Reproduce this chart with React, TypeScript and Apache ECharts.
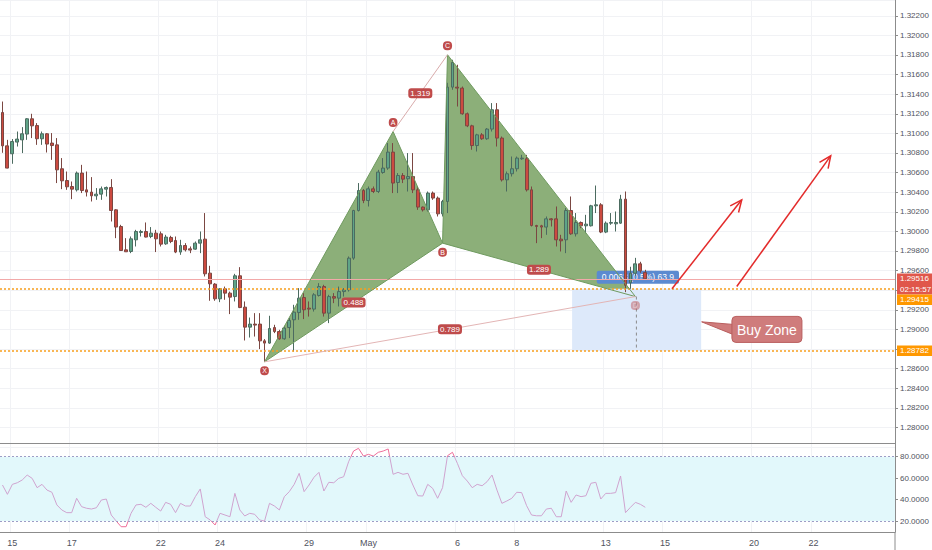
import React, { useEffect, useRef } from 'react';
import * as echarts from 'echarts';

// ---------- data ----------
const tradingDays = ['Apr 12','Apr 15','Apr 16','Apr 17','Apr 18','Apr 19','Apr 22','Apr 23','Apr 24','Apr 25','Apr 26','Apr 29','Apr 30','May 1','May 2','May 3','May 6','May 7','May 8','May 9','May 10','May 13','May 14','May 15','May 16','May 17','May 20','May 21','May 22','May 23','May 24','May 27','May 28'];
const labeledDays = ['Apr 15','Apr 17','Apr 22','Apr 24','Apr 29','May 1','May 6','May 8','May 13','May 15','May 20','May 22'];
const barsPerDay = 6;
const firstBarOffset = 4;
const slotCount = 181;

const opens = [1.31213,1.30873,1.30792,1.30911,1.30934,1.30993,1.31149,1.31080,1.30945,1.30996,
1.30901,1.30883,1.30639,1.30519,1.30458,1.30424,1.30595,1.30424,1.30401,1.30363,
1.30380,1.30431,1.30448,1.30220,1.30050,1.29812,1.29795,1.29914,1.29989,1.29999,
1.29948,1.29982,1.29975,1.29873,1.29938,1.29907,1.29789,1.29856,1.29822,1.29819,
1.29880,1.29921,1.29574,1.29462,1.29312,1.29414,1.29370,1.29335,1.29547,1.29227,
1.29023,1.29054,1.29054,1.28883,1.28860,1.29019,1.28978,1.28904,1.29019,1.29098,
1.29172,1.29325,1.29217,1.29207,1.29346,1.29437,1.29166,1.29335,1.29319,1.29386,
1.29404,1.29727,1.30213,1.30417,1.30315,1.30434,1.30407,1.30601,1.30646,1.30809,
1.30499,1.30570,1.30537,1.30560,1.30424,1.30248,1.30220,1.30391,1.30340,1.30179,
1.30305,1.31472,1.31472,1.31462,1.31200,1.31077,1.30876,1.30985,1.30945,1.31044,
1.31241,1.30952,1.30526,1.30588,1.30639,1.30741,1.30741,1.30424,1.30060,1.30057,
1.30044,1.30128,1.30128,1.29921,1.29914,1.30213,1.29975,1.30091,1.30057,1.30057,
1.30261,1.30271,1.29993,1.30084,1.30077,1.30084,1.30329,1.29475,1.29574,1.29669,
1.29580];
const closes = [1.30873,1.30646,1.30917,1.30942,1.30996,1.31149,1.31077,1.30945,1.30996,1.30891,
1.30876,1.30628,1.30516,1.30455,1.30431,1.30595,1.30417,1.30401,1.30363,1.30380,
1.30434,1.30448,1.30213,1.30044,1.29805,1.29792,1.29924,1.29999,1.29999,1.29942,
1.29982,1.29924,1.29870,1.29942,1.29897,1.29789,1.29856,1.29812,1.29809,1.29880,
1.29914,1.29567,1.29465,1.29312,1.29414,1.29370,1.29329,1.29547,1.29223,1.29023,
1.29054,1.29044,1.28883,1.28860,1.29009,1.28978,1.28904,1.29013,1.29091,1.29176,
1.29319,1.29200,1.29207,1.29353,1.29437,1.29166,1.29335,1.29319,1.29386,1.29404,
1.29727,1.30213,1.30417,1.30315,1.30434,1.30407,1.30605,1.30646,1.30809,1.30493,
1.30570,1.30533,1.30560,1.30424,1.30248,1.30220,1.30391,1.30340,1.30179,1.30305,
1.31472,1.31723,1.31462,1.31200,1.31077,1.30876,1.30985,1.30945,1.31044,1.31241,
1.30952,1.30526,1.30588,1.30639,1.30748,1.30748,1.30424,1.30060,1.30050,1.30044,
1.30128,1.30118,1.29914,1.29904,1.30213,1.29975,1.30091,1.30057,1.30074,1.30261,
1.30271,1.29993,1.30084,1.30091,1.30091,1.30329,1.29450,1.29574,1.29669,1.29598,
1.29516];
const lows = [1.30802,1.30644,1.30690,1.30866,1.30799,1.30934,1.30952,1.30883,1.30883,1.30805,
1.30730,1.30493,1.30431,1.30424,1.30329,1.30407,1.30391,1.30356,1.30305,1.30322,
1.30322,1.30356,1.30101,1.29931,1.29805,1.29792,1.29778,1.29846,1.29948,1.29938,
1.29931,1.29789,1.29846,1.29863,1.29880,1.29778,1.29761,1.29795,1.29778,1.29812,
1.29778,1.29540,1.29292,1.29292,1.29278,1.29302,1.29156,1.29285,1.29217,1.28887,
1.28917,1.28927,1.28799,1.28672,1.28853,1.28962,1.28894,1.28894,1.28911,1.28774,
1.29098,1.29105,1.29131,1.29182,1.29335,1.29131,1.29064,1.29268,1.29234,1.29335,
1.29386,1.29710,1.30203,1.30288,1.30254,1.30391,1.30391,1.30588,1.30628,1.30391,
1.30391,1.30493,1.30407,1.30391,1.30220,1.30203,1.30203,1.30322,1.30152,1.30152,
1.30187,1.31445,1.31274,1.31190,1.31064,1.30833,1.30815,1.30934,1.30934,1.31019,
1.30866,1.30509,1.30407,1.30560,1.30611,1.30730,1.30407,1.30050,1.29880,1.29931,
1.29965,1.30050,1.29846,1.29795,1.29778,1.29965,1.29948,1.30033,1.29982,1.30050,
1.30187,1.29982,1.29982,1.30067,1.29999,1.30077,1.29380,1.29414,1.29547,1.29577,
1.29506];
const highs = [1.31325,1.30934,1.30942,1.31019,1.31064,1.31156,1.31200,1.31105,1.31019,1.31003,
1.31003,1.30952,1.30748,1.30611,1.30509,1.30611,1.30679,1.30611,1.30554,1.30442,
1.30458,1.30458,1.30533,1.30227,1.30067,1.29931,1.29948,1.30016,1.30016,1.30091,
1.30044,1.30016,1.29999,1.29965,1.29955,1.29948,1.29914,1.29880,1.29846,1.29897,
1.29999,1.30187,1.29649,1.29472,1.29421,1.29437,1.29386,1.29567,1.29635,1.29285,
1.29121,1.29166,1.29166,1.28901,1.29139,1.29047,1.28996,1.29036,1.29115,1.29251,
1.29421,1.29370,1.29285,1.29370,1.29472,1.29455,1.29353,1.29370,1.29437,1.29421,
1.29744,1.30220,1.30493,1.30431,1.30458,1.30458,1.30628,1.30748,1.30901,1.30901,
1.30595,1.30595,1.30799,1.30799,1.30458,1.30254,1.30407,1.30407,1.30356,1.30322,
1.31516,1.31751,1.31700,1.31478,1.31213,1.31088,1.30996,1.31003,1.31054,1.31309,
1.31309,1.30968,1.30611,1.30764,1.30764,1.30781,1.30781,1.30458,1.30067,1.30067,
1.30152,1.30135,1.30254,1.29965,1.30238,1.30356,1.30187,1.30101,1.30169,1.30271,
1.30468,1.30288,1.30101,1.30187,1.30203,1.30373,1.30407,1.29639,1.29730,1.29690,
1.29608];
const rsi = [53.6,44.9,54.2,55.7,58.3,62.9,59.8,51.1,54.2,48.9,
46.8,35.0,30.3,27.8,27.8,41.2,33.4,31.9,31.2,32.4,
39.6,40.5,25.6,20.0,14.7,14.7,27.2,35.0,35.6,32.8,
36.5,32.8,29.3,37.4,35.6,27.8,36.5,34.0,34.0,42.7,
49.9,24.0,21.0,16.3,27.2,25.6,24.0,45.8,30.3,24.7,
27.2,26.3,21.0,20.0,36.5,34.0,30.3,42.7,47.4,54.2,
64.5,47.4,53.6,60.8,65.4,48.0,56.1,55.7,59.8,61.3,
75.3,85.3,87.8,80.6,82.2,80.6,84.1,85.3,87.2,63.6,
65.4,63.6,64.5,53.6,43.6,43.3,54.2,50.5,41.2,51.1,
80.9,84.1,73.8,62.3,57.3,51.1,54.2,52.9,56.7,62.9,
48.9,36.5,38.7,41.2,46.8,46.5,34.3,25.6,24.9,24.9,
31.2,31.9,24.0,24.0,48.0,37.4,44.3,42.7,43.6,55.2,
56.1,40.5,45.8,45.8,46.5,62.0,27.8,32.8,37.4,35.6,
32.8];

// harmonic pattern
const patternNames = ['X','A','B','C','D'];
const patternBar = [53, 79, 89, 90, 128];
const patternPrice = [1.28669, 1.31019, 1.29880, 1.31802, 1.29335];
const patternLabelAbove = [false, true, false, true, false];
const ratioPairs = [[0, 2], [1, 3], [2, 4], [0, 4]];
const ratioText = ['0.488', '1.319', '1.289', '0.789'];

const lastPrice = 1.29516;
const countdown = '02:15:57';
const zoneTop = 1.29415;
const zoneBottom = 1.28782;
const zoneBars = [115.2, 141.3];
const measureText = '0.0063 (0.5%) 63.9';
const measureBar = 128.5;
const measurePrice = 1.29531;
const arrowFromBar = [135.4, 148.5];
const arrowFromPrice = [1.29414, 1.29438];
const arrowToBar = [149.5, 167.5];
const arrowToPrice = [1.30322, 1.30771];
const calloutText = 'Buy Zone';
const calloutBar = 154.6;
const calloutPrice = 1.29000;
const calloutTipBar = 141.4;
const calloutTipPrice = 1.29077;

const priceMin = 1.278;
const priceMax = 1.32361;
const priceStep = 0.002;
const rsiMin = 9.76;
const rsiMax = 92.78;
const rsiLevels = [20, 40, 60, 80];

// ---------- layout / style ----------
const AXIS_X = 895;
const FONT = '"Liberation Sans", Arial, sans-serif';
const FILL_GREEN = '#8caf79';
const EDGE_GREEN = '#6f9a5f';
const BADGE_RED = '#bf4b4b';
const ORANGE = '#f89e1e';
const TAG_RED = '#e0574b';

const categories: string[] = [];
tradingDays.forEach((d) => {
  for (let h = 0; h < barsPerDay; h++) categories.push(`${d} ${h * 4}:00`);
});
const slots = categories.slice(firstBarOffset, firstBarOffset + slotCount);
const isLabeled = (v: string) => v.endsWith(' 0:00') && labeledDays.includes(v.replace(' 0:00', ''));
const dayText = (v: string) => {
  const d = v.replace(' 0:00', '');
  if (d === 'May 1') return 'May';
  return d.split(' ')[1];
};

const candleData = opens.map((o, i) => [o, closes[i], lows[i], highs[i]]);

function makePt(api: any) {
  return (bar: number, price: number) => {
    const i = Math.floor(bar);
    const f = bar - i;
    const a = api.coord([i, price]);
    const b = api.coord([i + 1, price]);
    return [a[0] + (b[0] - a[0]) * f, a[1]];
  };
}

function arrowShapes(p0: number[], p1: number[], color: string) {
  const dx = p1[0] - p0[0];
  const dy = p1[1] - p0[1];
  const L = Math.hypot(dx, dy);
  const ux = dx / L, uy = dy / L;
  const len = 13, ang = 0.42;
  const leg = (a: number) => [
    p1[0] - len * (ux * Math.cos(a) - uy * Math.sin(a)),
    p1[1] - len * (ux * Math.sin(a) + uy * Math.cos(a)),
  ];
  return [
    { type: 'line', shape: { x1: p0[0], y1: p0[1], x2: p1[0], y2: p1[1] }, style: { stroke: color, lineWidth: 1.5 } },
    { type: 'polyline', shape: { points: [leg(ang), p1, leg(-ang)] }, style: { stroke: color, lineWidth: 1.5, fill: null } },
  ];
}

export default function App() {
  const ref = useRef<HTMLDivElement>(null);
  useEffect(() => {
    if (!ref.current) return;
    const chart = echarts.init(ref.current, undefined, { renderer: 'svg' });

    const fillRender = (params: any, api: any) => {
      if (params.dataIndex !== 0) return null;
      const pt = makePt(api);
      const P = patternBar.map((b, i) => pt(b, patternPrice[i]));
      const z0 = pt(zoneBars[0], zoneTop);
      const z1 = pt(zoneBars[1], zoneBottom);
      const m = pt(measureBar, measurePrice);
      return {
        type: 'group',
        children: [
          { type: 'polygon', shape: { points: [P[0], P[1], P[2]] }, style: { fill: FILL_GREEN } },
          { type: 'polygon', shape: { points: [P[2], P[3], P[4]] }, style: { fill: FILL_GREEN } },
          { type: 'rect', shape: { x: z0[0], y: z0[1], width: z1[0] - z0[0], height: z1[1] - z0[1] }, style: { fill: '#dde9fa' } },
          {
            type: 'text',
            style: {
              text: measureText, x: m[0], y: m[1], align: 'center', verticalAlign: 'middle',
              fill: '#ffffff', fontSize: 8.5, fontFamily: FONT,
              backgroundColor: '#5b8ad0', padding: [2, 5], borderRadius: 2,
            },
          },
        ],
      };
    };

    const lineRender = (params: any, api: any) => {
      if (params.dataIndex !== 0) return null;
      const pt = makePt(api);
      const P = patternBar.map((b, i) => pt(b, patternPrice[i]));
      const children: any[] = [];
      children.push({ type: 'polyline', shape: { points: [P[0], P[1], P[2], P[0]] }, style: { stroke: EDGE_GREEN, lineWidth: 1, fill: null } });
      children.push({ type: 'polyline', shape: { points: [P[2], P[3], P[4], P[2]] }, style: { stroke: EDGE_GREEN, lineWidth: 1, fill: null } });
      children.push({ type: 'line', shape: { x1: P[1][0], y1: P[1][1], x2: P[3][0], y2: P[3][1] }, style: { stroke: '#d9abab', lineWidth: 1 } });
      children.push({ type: 'line', shape: { x1: P[0][0], y1: P[0][1], x2: P[4][0], y2: P[4][1] }, style: { stroke: '#e3b5b5', lineWidth: 1 } });
      const dBottom = pt(patternBar[4], zoneBottom);
      children.push({ type: 'line', shape: { x1: P[4][0] + 1, y1: P[4][1], x2: P[4][0] + 1, y2: dBottom[1] }, style: { stroke: '#8a8a8a', lineWidth: 1, lineDash: [3, 3] } });
      ratioPairs.forEach((pr, i) => {
        const a = P[pr[0]], b = P[pr[1]];
        children.push({
          type: 'text',
          style: {
            text: ratioText[i], x: (a[0] + b[0]) / 2, y: (a[1] + b[1]) / 2, align: 'center', verticalAlign: 'middle',
            fill: '#ffffff', fontSize: 8, fontFamily: FONT, backgroundColor: BADGE_RED, padding: [1, 2], borderRadius: 3,
          },
        });
      });
      patternNames.forEach((n, i) => {
        const p = P[i];
        const dy = patternLabelAbove[i] ? -9 : 9;
        children.push({
          type: 'text',
          style: {
            text: n, x: p[0], y: p[1] + dy, align: 'center', verticalAlign: 'middle',
            fill: '#ffffff', fontSize: 7, fontFamily: FONT, backgroundColor: BADGE_RED, padding: [1, 2], borderRadius: 4,
            opacity: i === 4 ? 0.45 : 1,
          },
        });
      });
      arrowFromBar.forEach((b, i) => {
        const p0 = pt(b, arrowFromPrice[i]);
        const p1 = pt(arrowToBar[i], arrowToPrice[i]);
        arrowShapes(p0, p1, '#e32b2b').forEach((s) => children.push(s));
      });
      const c = pt(calloutBar, calloutPrice);
      const tip = pt(calloutTipBar, calloutTipPrice);
      const w = 70, h = 26;
      children.push({ type: 'polygon', shape: { points: [tip, [c[0] - w / 2 + 1, c[1] - 5], [c[0] - w / 2 + 1, c[1] + 5]] }, style: { fill: '#cf7c7c', stroke: '#b95e5e', lineWidth: 1 } });
      children.push({ type: 'rect', shape: { x: c[0] - w / 2, y: c[1] - h / 2, width: w, height: h, r: 4 }, style: { fill: '#cf7c7c', stroke: '#b95e5e', lineWidth: 1 } });
      children.push({ type: 'rect', shape: { x: c[0] - w / 2 + 1, y: c[1] - 5, width: 3, height: 10 }, style: { fill: '#cf7c7c' } });
      children.push({ type: 'text', style: { text: calloutText, x: c[0], y: c[1] + 1, align: 'center', verticalAlign: 'middle', fill: '#ffffff', fontSize: 14, fontFamily: FONT } });
      return { type: 'group', children };
    };

    const priceLabel = (v: number) => v.toFixed(5);

    const option: any = {
      animation: false,
      backgroundColor: '#ffffff',
      grid: [
        { left: 0, top: 0, width: AXIS_X, height: 447, containLabel: false, outerBoundsMode: 'none' },
        { left: 0, top: 443, width: AXIS_X, height: 89, containLabel: false, outerBoundsMode: 'none' },
      ],
      xAxis: [
        {
          type: 'category', gridIndex: 0, data: slots, boundaryGap: true,
          axisLine: { show: false }, axisTick: { show: false }, axisLabel: { show: false },
          splitLine: { show: true, interval: (i: number, v: string) => isLabeled(v), lineStyle: { color: '#f1f2f5', width: 1 } },
        },
        {
          type: 'category', gridIndex: 1, data: slots, boundaryGap: true, position: 'bottom',
          axisLine: { show: true, lineStyle: { color: '#8c8c8c', width: 1 } }, axisTick: { show: false },
          axisLabel: {
            show: true, interval: (i: number, v: string) => isLabeled(v), formatter: (v: string) => dayText(v),
            color: '#50535e', fontSize: 9, fontFamily: FONT, margin: 6,
          },
          splitLine: { show: true, interval: (i: number, v: string) => isLabeled(v), lineStyle: { color: '#f1f2f5', width: 1 } },
        },
        {
          type: 'category', gridIndex: 1, data: slots, boundaryGap: true, position: 'top',
          axisLine: { show: true, lineStyle: { color: '#8c8c8c', width: 1 } }, axisTick: { show: false }, axisLabel: { show: false },
          splitLine: { show: false },
        },
      ],
      yAxis: [
        {
          type: 'value', gridIndex: 0, position: 'right', min: priceMin, max: priceMax, interval: priceStep, scale: true,
          axisLine: { show: true, lineStyle: { color: '#8c8c8c', width: 1 } },
          axisTick: { show: true, length: 3, lineStyle: { color: '#8c8c8c' } },
          axisLabel: { show: true, showMinLabel: false, showMaxLabel: false, formatter: priceLabel, color: '#50535e', fontSize: 8, fontFamily: FONT, margin: 5 },
          splitLine: { show: true, lineStyle: { color: '#f1f2f5', width: 1 } },
        },
        {
          type: 'value', gridIndex: 1, position: 'right', min: rsiMin, max: rsiMax,
          axisLine: { show: true, lineStyle: { color: '#8c8c8c', width: 1 } },
          axisTick: { show: true, length: 3, customValues: rsiLevels, lineStyle: { color: '#8c8c8c' } },
          axisLabel: { show: true, customValues: rsiLevels, formatter: (v: number) => v.toFixed(4), color: '#50535e', fontSize: 8, fontFamily: FONT, margin: 5 },
          splitLine: { show: false },
        },
      ],
      visualMap: {
        show: false, seriesIndex: 3, dimension: 1,
        pieces: [
          { lt: 20, color: '#ee6f9a' },
          { gte: 20, lte: 80, color: '#cfa3cf' },
          { gt: 80, color: '#ee6f9a' },
        ],
      },
      series: [
        {
          type: 'custom', name: 'patternFill', xAxisIndex: 0, yAxisIndex: 0, z: 1, clip: false, silent: true,
          data: [[0, 1.3]], encode: { x: 0, y: 1 }, renderItem: fillRender,
        },
        {
          type: 'candlestick', name: 'GBPUSD', xAxisIndex: 0, yAxisIndex: 0, z: 2, barWidth: '68%',
          data: candleData,
          itemStyle: { color: '#5fa488', color0: '#cc4a40', borderColor: '#4c6b60', borderColor0: '#7b4742', borderWidth: 1 },
          markLine: {
            silent: true, symbol: ['none', 'none'], label: { show: false }, animation: false, precision: 5,
            data: [
              { yAxis: lastPrice, lineStyle: { color: '#f2a9a9', width: 1, type: 'solid' } },
              { yAxis: zoneTop, lineStyle: { color: ORANGE, width: 1.5, type: [2, 2] } },
              { yAxis: zoneBottom, lineStyle: { color: ORANGE, width: 1.5, type: [2, 2] } },
            ],
          },
        },
        {
          type: 'custom', name: 'patternLines', xAxisIndex: 0, yAxisIndex: 0, z: 5, clip: false, silent: true,
          data: [[0, 1.3]], encode: { x: 0, y: 1 }, renderItem: lineRender,
        },
        {
          type: 'line', name: 'RSI', xAxisIndex: 1, yAxisIndex: 1, data: rsi, showSymbol: false, symbol: 'none',
          lineStyle: { width: 1 }, z: 3,
          markArea: { silent: true, itemStyle: { color: '#e2f8fb' }, data: [[{ yAxis: 20 }, { yAxis: 80 }]] },
          markLine: {
            silent: true, symbol: ['none', 'none'], label: { show: false }, precision: 4,
            lineStyle: { color: '#9d9dc6', width: 1, type: [2, 2] },
            data: [{ yAxis: 80 }, { yAxis: 20 }],
          },
        },
      ],
    };
    chart.setOption(option);

    // price tags on the right axis
    const tagH = 10.5;
    const tags = [
      { text: lastPrice.toFixed(5), price: lastPrice, color: TAG_RED, stack: false },
      { text: countdown, price: lastPrice, color: TAG_RED, stack: true },
      { text: zoneTop.toFixed(5), price: zoneTop, color: '#ff9800', stack: false },
      { text: zoneBottom.toFixed(5), price: zoneBottom, color: '#ff9800', stack: false },
    ];
    const gfx: any[] = [];
    const spans: number[][] = [];
    let prev = -1000;
    tags.forEach((t) => {
      let cy = chart.convertToPixel({ yAxisIndex: 0 }, t.price) as number;
      if (t.stack || cy < prev + tagH) cy = prev + tagH;
      prev = cy;
      spans.push([cy - tagH / 2, cy + tagH / 2]);
      gfx.push({ type: 'rect', shape: { x: AXIS_X + 2, y: cy - tagH / 2, width: 932 - AXIS_X - 2, height: tagH }, style: { fill: t.color }, z: 50 });
      gfx.push({ type: 'text', x: AXIS_X + 5, y: cy, style: { text: t.text, fill: '#ffffff', fontSize: 8, fontFamily: FONT, verticalAlign: 'middle', align: 'left' }, z: 51 });
    });
    gfx.push({ type: 'line', shape: { x1: AXIS_X, y1: 532, x2: AXIS_X, y2: 550 }, style: { stroke: '#8c8c8c', lineWidth: 1 }, z: 50 });

    // axis labels whose centre lies behind a tag
    const hiddenByTag = (v: number) => {
      const y = chart.convertToPixel({ yAxisIndex: 0 }, v) as number;
      return spans.some((s) => y > s[0] && y < s[1]);
    };
    chart.setOption({
      graphic: gfx,
      yAxis: [
        { axisLabel: { formatter: (v: number) => (hiddenByTag(v) ? '' : priceLabel(v)) } },
        {},
      ],
    });

    return () => chart.dispose();
  }, []);
  return <div ref={ref} style={{ position: 'absolute', left: 0, top: 0, width: 932, height: 550 }} />;
}
